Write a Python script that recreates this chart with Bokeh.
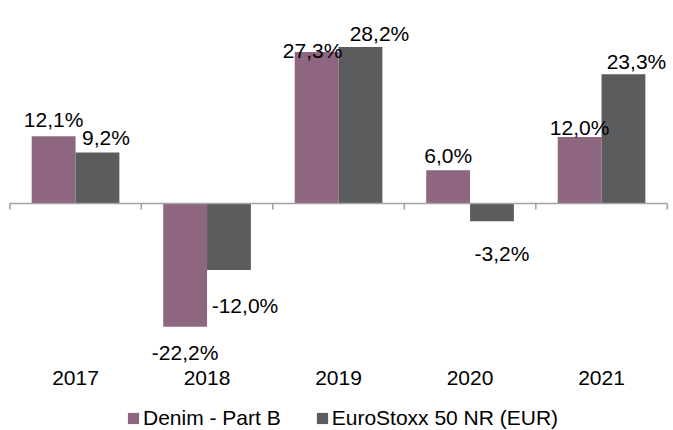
from bokeh.plotting import figure
from bokeh.models import ColumnDataSource, Range1d, Legend, LegendItem
from bokeh.core.properties import value
from bokeh.embed import file_html
from bokeh.resources import INLINE

# ---- data ----
years = ["2017", "2018", "2019", "2020", "2021"]
denim = [12.1, -22.2, 27.3, 6.0, 12.0]
eurostoxx = [9.2, -12.0, 28.2, -3.2, 23.3]
series_names = ["Denim - Part B", "EuroStoxx 50 NR (EUR)"]

# ---- styles ----
C_DENIM = "#8E6680"
C_STOXX = "#5B5C5E"
AXIS_C = "#A3A3A3"
FONT = "Liberation Sans"
FS = "21px"
BAR_W = 1.0 / 3.0

# label pixel offsets (style)
denim_dx = [0, 0, -4, 0, 0]
denim_dy = [-16.5, 25.5, -1.5, -14.7, -9.7]
stoxx_dx = [8.5, 16, 19, 10, 13]
stoxx_dy = [-15.2, 35.4, -13.2, 32.2, -13]


def fmt(v):
    return f"{v:.1f}".replace(".", ",") + "%"


idx = list(range(len(years)))
x_d = [i - BAR_W / 2 for i in idx]
x_s = [i + BAR_W / 2 for i in idx]

W, H = 673, 430
px_per_cat = 131.5
left_px = 9.3
zero_px = 203.0
px_per_unit = 5.55

x0 = -0.5 - left_px / px_per_cat
x1 = x0 + W / px_per_cat
y1 = zero_px / px_per_unit
y0 = y1 - H / px_per_unit

p = figure(width=W, height=H, output_backend="svg", toolbar_location=None,
           x_range=Range1d(x0, x1), y_range=Range1d(y0, y1),
           min_border=0, min_border_left=0, min_border_right=0,
           min_border_top=0, min_border_bottom=0)
p.axis.visible = False
p.grid.visible = False
p.outline_line_color = None
p.background_fill_color = "white"
p.border_fill_color = "white"

src_d = ColumnDataSource(dict(x=x_d, top=denim, lab=[fmt(v) for v in denim],
                              dx=denim_dx, dy=denim_dy))
src_s = ColumnDataSource(dict(x=x_s, top=eurostoxx, lab=[fmt(v) for v in eurostoxx],
                              dx=stoxx_dx, dy=stoxx_dy))

r_d = p.vbar(x="x", top="top", bottom=0, width=BAR_W, source=src_d,
             fill_color=C_DENIM, line_color=None)
r_s = p.vbar(x="x", top="top", bottom=0, width=BAR_W, source=src_s,
             fill_color=C_STOXX, line_color=None)

# zero axis line with boundary ticks
bounds = [i - 0.5 for i in range(len(years) + 1)]
p.segment(x0=[bounds[0]], y0=[0], x1=[bounds[-1]], y1=[0],
          line_color=AXIS_C, line_width=1.6)
tick_len = 6 / px_per_unit
p.segment(x0=bounds, y0=[0] * len(bounds), x1=bounds, y1=[-tick_len] * len(bounds),
          line_color=AXIS_C, line_width=1.6)

# data labels
for src in (src_d, src_s):
    p.text(x="x", y="top", text="lab", source=src, x_offset="dx", y_offset="dy",
           text_align="center", text_baseline="alphabetic",
           text_font=value(FONT), text_font_size=FS, text_color="black")

# category labels
p.text(x=idx, y=[0] * len(idx), text=years, y_offset=174,
       text_align="center", text_baseline="alphabetic",
       text_font=value(FONT), text_font_size=FS, text_color="black")

legend = Legend(items=[LegendItem(label=series_names[0], renderers=[r_d]),
                       LegendItem(label=series_names[1], renderers=[r_s])],
                location=(126, 0), orientation="horizontal",
                glyph_width=14, glyph_height=14, label_standoff=3, spacing=34,
                padding=0, margin=0, border_line_color=None,
                background_fill_alpha=0,
                label_text_font=FONT, label_text_font_size=FS,
                label_text_color="black")
p.add_layout(legend)

open("out.html", "w").write(file_html(p, INLINE))
